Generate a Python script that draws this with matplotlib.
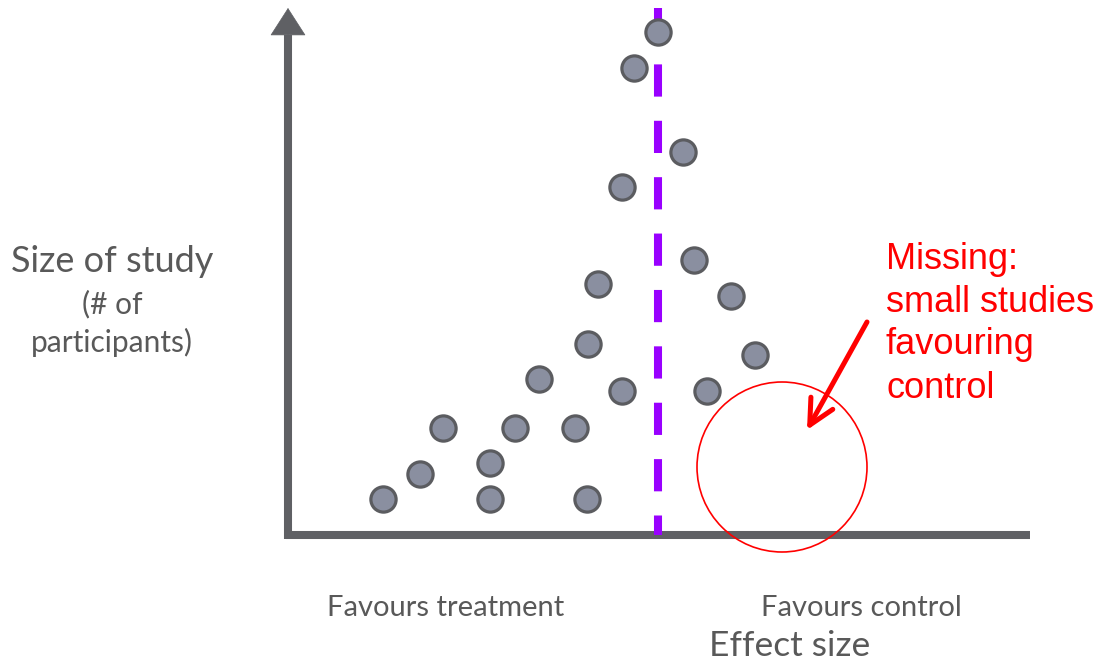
import matplotlib
matplotlib.use("Agg")
import matplotlib.pyplot as plt
from matplotlib.patches import Ellipse

# ---- data (effect size relative to the pooled estimate, study size) ----
effect = [0.00, -0.24, 0.25, -0.36, 0.36, -0.60, 0.73, -0.70, 0.97, -1.19,
          -0.36, 0.49, -2.15, -1.43, -0.83, -2.38, -1.68, -2.75, -1.68, -0.71]
size = [100.6, 93.4, 76.6, 69.6, 55.0, 50.2, 47.8, 38.2, 36.0, 31.2,
        28.8, 28.8, 21.4, 21.4, 21.4, 12.2, 14.4, 7.2, 7.2, 7.2]
pooled_effect = 0.0
missing_center = (1.24, 13.6)
missing_width, missing_height = 1.70, 34.0
arrow_tail = (2.09, 42.6)
arrow_head = (1.49, 21.0)
note_lines = ["Missing:", "small studies", "favouring", "control"]

W, H = 1095, 661
fig = plt.figure(figsize=(W / 100, H / 100), dpi=100)
fig.patch.set_facecolor("white")

def fx(px):
    return px / W

def fy(py):
    return 1 - py / H

ax = fig.add_axes([fx(288), fy(535), (1030 - 288) / W, (535 - 8) / H])
ax.set_xlim(-3.70, 3.72)
ax.set_ylim(0, 105.4)
ax.axis("off")

axis_col = "#5f6064"
# x axis
ax.plot([-3.72, 3.72], [0, 0], color=axis_col, lw=5.8, solid_capstyle="butt",
        clip_on=False, zorder=2)
# y axis shaft
ax.plot([-3.70, -3.70], [-0.8, 100.0], color=axis_col, lw=5.8,
        solid_capstyle="butt", clip_on=False, zorder=2)
# y axis arrow head
ax.annotate("", xy=(-3.70, 105.4), xytext=(-3.70, 94.0),
            arrowprops=dict(arrowstyle="-|>,head_length=0.7,head_width=0.45",
                            color=axis_col, lw=0.5, mutation_scale=27,
                            shrinkA=0, shrinkB=0),
            annotation_clip=False, zorder=2)

# pooled effect dashed line
ax.plot([pooled_effect, pooled_effect], [105.4, 0], color="#9900ff", lw=5.8,
        dashes=(4, 3), solid_capstyle="butt", dash_capstyle="butt",
        clip_on=False, zorder=3)

# studies
ax.scatter(effect, size, s=330, facecolor="#8a8fa0", edgecolor="#5b5c60",
           linewidth=2.3, zorder=4, clip_on=False)

# missing region
ax.add_patch(Ellipse(missing_center, missing_width, missing_height, fill=False,
                     edgecolor="#ff0000", lw=1.2, zorder=5, clip_on=False))
ax.annotate("", xy=arrow_head, xytext=arrow_tail,
            arrowprops=dict(arrowstyle="->,head_length=0.9,head_width=0.45",
                            color="#ff0000", lw=3.6, mutation_scale=20,
                            shrinkA=0, shrinkB=0),
            annotation_clip=False, zorder=6)

for i, line in enumerate(note_lines):
    fig.text(fx(886), fy(259 + 43 * i), line, color="#ff0000", fontsize=26,
             family="Liberation Sans", ha="left", va="center")

font = "Lato"
grey = "#595959"
fig.text(fx(112), fy(261), "Size of study", color=grey, fontsize=26,
         family=font, ha="center", va="center")
fig.text(fx(112), fy(304), "(# of", color=grey, fontsize=21.5,
         family=font, ha="center", va="center")
fig.text(fx(112), fy(342), "participants)", color=grey, fontsize=21.5,
         family=font, ha="center", va="center")
fig.text(fx(446), fy(608), "Favours treatment", color=grey, fontsize=21,
         family=font, ha="center", va="center")
fig.text(fx(861), fy(608), "Favours control", color=grey, fontsize=21,
         family=font, ha="center", va="center")
fig.text(fx(790), fy(646), "Effect size", color=grey, fontsize=25.5,
         family=font, ha="center", va="center")

fig.savefig("out.png", dpi=100, facecolor="white")
